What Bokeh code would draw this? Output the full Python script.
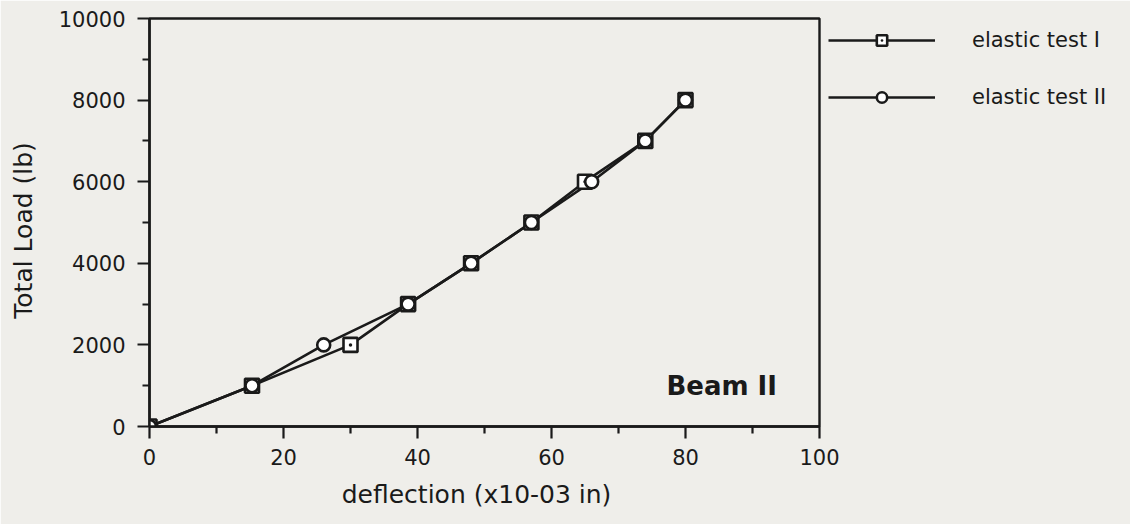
from bokeh.plotting import figure
from bokeh.models import Range1d, Legend, LegendItem, Label, FixedTicker
from bokeh.embed import file_html
from bokeh.resources import INLINE

# data
defl_test1 = [0, 15.3, 30, 38.6, 48, 57, 65, 74, 80]
load_test1 = [0, 1000, 2000, 3000, 4000, 5000, 6000, 7000, 8000]
defl_test2 = [0, 15.3, 26, 38.6, 48, 57, 66, 74, 80]
load_test2 = [0, 1000, 2000, 3000, 4000, 5000, 6000, 7000, 8000]
series_names = ["elastic test I", "elastic test II"]
x_major = [0, 20, 40, 60, 80, 100]
x_minor = [10, 30, 50, 70, 90]
y_major = [0, 2000, 4000, 6000, 8000, 10000]
y_minor = [1000, 3000, 5000, 7000, 9000]

BG = "#efeeea"
INK = "#1a1a1a"
FONT = "DejaVu Sans"

p = figure(frame_width=670, frame_height=408, output_backend="svg",
           toolbar_location=None,
           x_range=Range1d(0, 100), y_range=Range1d(0, 10000),
           min_border_left=149, min_border_right=0,
           min_border_top=18, min_border_bottom=98)
p.background_fill_color = BG
p.border_fill_color = BG
p.outline_line_color = INK
p.outline_line_width = 2.4
p.xgrid.visible = False
p.ygrid.visible = False

p.xaxis.ticker = FixedTicker(ticks=x_major, minor_ticks=x_minor)
p.yaxis.ticker = FixedTicker(ticks=y_major, minor_ticks=y_minor)
for ax in (p.xaxis, p.yaxis):
    ax.axis_line_color = INK
    ax.axis_line_width = 2.4
    ax.major_tick_line_color = INK
    ax.major_tick_line_width = 2.2
    ax.minor_tick_line_color = INK
    ax.minor_tick_line_width = 2.2
    ax.major_tick_out = 12
    ax.major_tick_in = 0
    ax.minor_tick_out = 7
    ax.minor_tick_in = 0
    ax.major_label_text_font = FONT
    ax.major_label_text_font_size = "21px"
    ax.major_label_text_color = INK
    ax.axis_label_text_font = FONT
    ax.axis_label_text_font_size = "25px"
    ax.axis_label_text_font_style = "normal"
    ax.axis_label_text_color = INK

p.xaxis.axis_label = "deflection  (x10-03  in)"
p.yaxis.axis_label = "Total  Load  (lb)"
p.xaxis.major_label_standoff = 10
p.yaxis.major_label_standoff = 12
p.xaxis.axis_label_standoff = 12
p.yaxis.axis_label_standoff = 18

l1 = p.line(defl_test1, load_test1, line_color=INK, line_width=2.6)
l2 = p.line(defl_test2, load_test2, line_color=INK, line_width=2.6)
s1 = p.scatter(defl_test1, load_test1, marker="square_dot", size=14,
               line_color=INK, line_width=2.6, fill_color="white")
s2 = p.scatter(defl_test2, load_test2, marker="circle", size=13,
               line_color=INK, line_width=2.6, fill_color="white")

legend = Legend(items=[LegendItem(label=series_names[0], renderers=[l1, s1]),
                       LegendItem(label=series_names[1], renderers=[l2, s2])],
                location="top_left", glyph_width=107, glyph_height=26,
                label_height=26, spacing=31, padding=0, margin=9,
                label_standoff=37, label_text_font=FONT,
                label_text_font_size="21px", label_text_color=INK,
                border_line_color=None, background_fill_alpha=0)
p.add_layout(legend, "right")

p.add_layout(Label(x=95, y=1000, text="Beam  II", text_align="right",
                   text_baseline="middle", text_font=FONT,
                   text_font_size="26px", text_font_style="bold",
                   text_color=INK))

open("out.html", "w").write(file_html(p, INLINE))
